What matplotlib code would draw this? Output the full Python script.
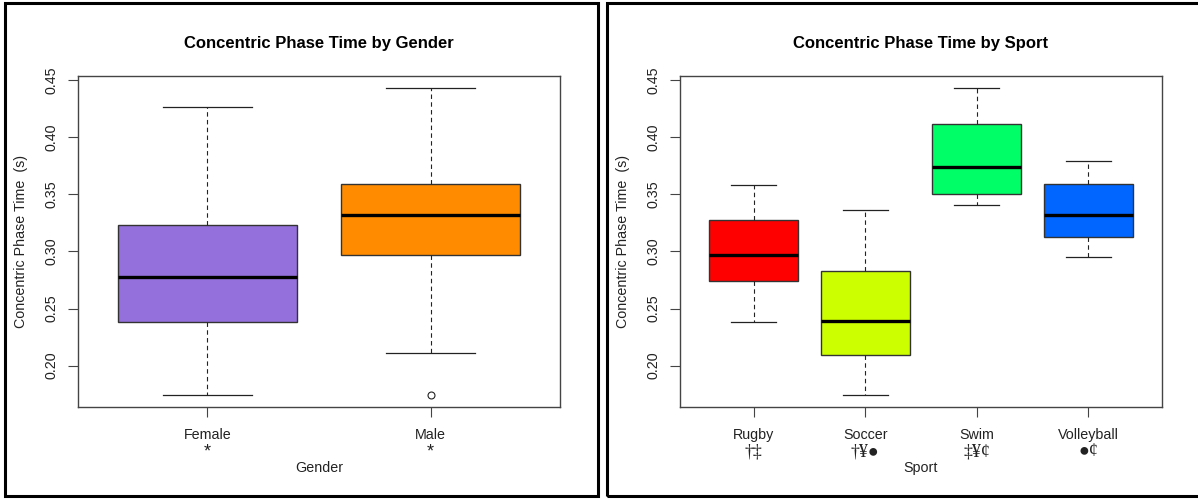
import matplotlib.pyplot as plt
from matplotlib.patches import Rectangle

plt.rcParams['font.family'] = ['Liberation Sans', 'DejaVu Sans']

# five-number summaries (low whisker, q1, median, q3, high whisker)
genders = ['Female', 'Male']
gender_marks = ['*', '*']
gender_lo = [0.1745, 0.2115]
gender_q1 = [0.238, 0.297]
gender_med = [0.278, 0.332]
gender_q3 = [0.323, 0.359]
gender_hi = [0.427, 0.443]
gender_fliers = [[], [0.1745]]
gender_colors = ['#9370DB', '#FF8C00']

sports = ['Rugby', 'Soccer', 'Swim', 'Volleyball']
sport_marks = ['\u2020\u2021', '\u2020\u00a5\u25cf', '\u2021\u00a5\u00a2', '\u25cf\u00a2']
sport_lo = [0.238, 0.1745, 0.341, 0.295]
sport_q1 = [0.274, 0.209, 0.350, 0.313]
sport_med = [0.2965, 0.239, 0.374, 0.332]
sport_q3 = [0.328, 0.2825, 0.412, 0.359]
sport_hi = [0.3585, 0.3365, 0.443, 0.379]
sport_fliers = [[], [], [], []]
sport_colors = ['#FF0000', '#CCFF00', '#00FF66', '#0066FF']

yticks = [0.20, 0.25, 0.30, 0.35, 0.40, 0.45]

W, H = 1198, 499
fig = plt.figure(figsize=(W / 100, H / 100), dpi=100)


def px_axes(x0, y0, x1, y1):
    return fig.add_axes([x0 / W, 1 - y1 / H, (x1 - x0) / W, (y1 - y0) / H])


def border(x0, y0, x1, y1):
    fig.patches.append(Rectangle((x0 / W, 1 - y1 / H), (x1 - x0) / W, (y1 - y0) / H,
                                 transform=fig.transFigure, fill=False,
                                 edgecolor='black', linewidth=2.2))


def panel(ax, names, marks, lo, q1, med, q3, hi, fliers, colors, title, xlabel):
    stats = []
    for i in range(len(names)):
        stats.append(dict(label=names[i], whislo=lo[i], q1=q1[i], med=med[i],
                          q3=q3[i], whishi=hi[i], fliers=fliers[i]))
    n = len(names)
    bp = ax.bxp(stats, positions=range(1, n + 1), widths=0.8, capwidths=0.4,
                patch_artist=True, showfliers=True,
                boxprops=dict(edgecolor='#333333', linewidth=1.0),
                medianprops=dict(color='black', linewidth=2.4, solid_capstyle='butt'),
                whiskerprops=dict(color='#222222', linewidth=0.8, linestyle=(0, (4, 3))),
                capprops=dict(color='#222222', linewidth=0.9),
                flierprops=dict(marker='o', markersize=5, markerfacecolor='white',
                                markeredgecolor='#222222', markeredgewidth=0.8))
    for patch, c in zip(bp['boxes'], colors):
        patch.set_facecolor(c)

    allv = lo + hi + [v for f in fliers for v in f]
    vmin, vmax = min(allv), max(allv)
    pad = (vmax - vmin) * 0.04
    ax.set_ylim(vmin - pad, vmax + pad)
    xpad = n * 0.04
    ax.set_xlim(0.5 - xpad, n + 0.5 + xpad)

    ax.set_yticks(yticks)
    ax.set_yticklabels(['%.2f' % v for v in yticks], rotation=90, va='center')
    ax.set_xticks(range(1, n + 1))
    ax.set_xticklabels(names)
    ax.tick_params(axis='both', length=7, width=0.8, color='#444444',
                   labelsize=10.3, labelcolor='#222222')
    ax.tick_params(axis='y', pad=7)
    ax.tick_params(axis='x', pad=8)
    for s in ax.spines.values():
        s.set_color('#444444')
        s.set_linewidth(1.0)

    for i, m in enumerate(marks):
        if m == '*':
            fam, fs = ['Liberation Sans', 'DejaVu Sans'], 13
        else:
            fam, fs = ['Liberation Serif', 'DejaVu Serif'], 13
        ax.text(i + 1, -0.135, m, transform=ax.get_xaxis_transform(),
                ha='center', va='center', fontsize=fs, color='#222222', family=fam)

    ax.set_title(title, fontsize=12, fontweight='bold', pad=20)
    ax.set_ylabel('Concentric Phase Time  (s)', fontsize=10.3, color='#222222', labelpad=12)
    ax.set_xlabel(xlabel, fontsize=10.3, color='#222222', labelpad=13.5)


ax1 = px_axes(78, 76, 560, 407)
panel(ax1, genders, gender_marks, gender_lo, gender_q1, gender_med, gender_q3,
      gender_hi, gender_fliers, gender_colors, 'Concentric Phase Time by Gender', 'Gender')

ax2 = px_axes(680, 76, 1162, 407)
panel(ax2, sports, sport_marks, sport_lo, sport_q1, sport_med, sport_q3,
      sport_hi, sport_fliers, sport_colors, 'Concentric Phase Time by Sport', 'Sport')

border(5, 3, 598, 496)
border(607, 3, 1205, 496)

fig.savefig('out.png', dpi=100)
